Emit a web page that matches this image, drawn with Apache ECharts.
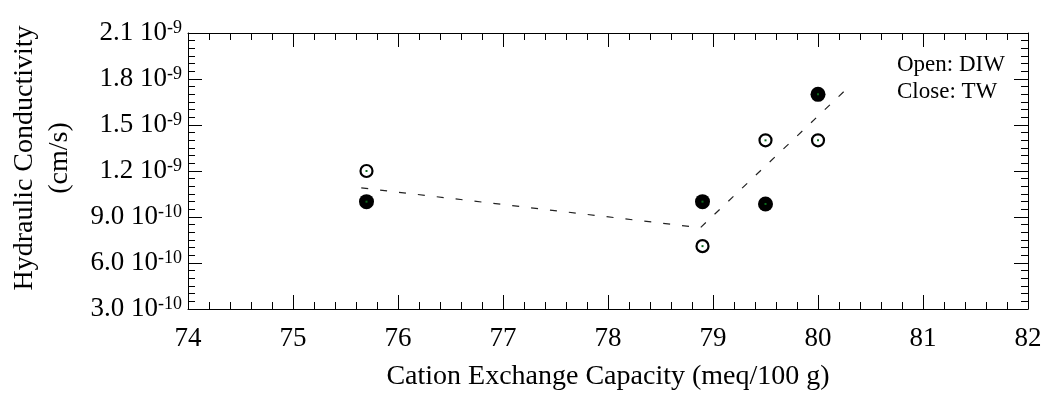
<!DOCTYPE html>
<html>
<head>
<meta charset="utf-8">
<script src="https://cdn.jsdelivr.net/npm/echarts@6/dist/echarts.min.js"></script>
<style>
  html, body { margin: 0; padding: 0; background: #fff; }
  #chart { width: 1045px; height: 394px; }
</style>
</head>
<body>
<div id="chart"></div>
<script>
// cation exchange capacity (meq/100 g)
var cecDIW = [75.7, 78.9, 79.5, 80.0];
var cecTW = [75.7, 78.9, 79.5, 80.0];
// hydraulic conductivity, in units of 1e-9 cm/s
var kDIW = [1.2, 0.71, 1.4, 1.4];
var kTW = [1.0, 1.0, 0.985, 1.7];
// dashed trend line (two segments)
var trendX = [75.65, 78.88, 80.28];
var trendY = [1.09, 0.83, 1.74];

var serif = 'Liberation Serif';

function pairs(xs, ys) {
  var out = [];
  for (var i = 0; i < xs.length; i++) out.push([xs[i], ys[i]]);
  return out;
}

function yLabel(v) {
  if (v >= 0.999) return '{b|' + v.toFixed(1) + ' 10}{s|-9}';
  return '{b|' + (v * 10).toFixed(1) + ' 10}{s|-10}';
}

var tickStyle = { color: '#000', width: 1 };

var chart = echarts.init(document.getElementById('chart'));
chart.setOption({
  animation: false,
  grid: { left: 188, right: 17, top: 33, bottom: 85, outerBoundsMode: 'none', containLabel: false },
  xAxis: [
    {
      type: 'value', min: 74, max: 82, interval: 1,
      name: 'Cation Exchange Capacity (meq/100 g)',
      nameLocation: 'middle', nameGap: 54,
      nameTextStyle: { fontFamily: serif, fontSize: 28, color: '#000' },
      axisLine: { lineStyle: { color: '#000', width: 1 } },
      axisTick: { inside: true, length: 14, lineStyle: tickStyle },
      minorTick: { show: true, splitNumber: 5, length: 7, lineStyle: tickStyle },
      axisLabel: { fontFamily: serif, fontSize: 27, color: '#000', margin: 16 },
      splitLine: { show: false }
    },
    {
      type: 'value', min: 74, max: 82, interval: 1, position: 'top',
      axisLine: { lineStyle: { color: '#000', width: 1 } },
      axisTick: { inside: true, length: 14, lineStyle: tickStyle },
      minorTick: { show: true, splitNumber: 5, length: 7, lineStyle: tickStyle },
      axisLabel: { show: false },
      splitLine: { show: false }
    }
  ],
  yAxis: [
    {
      type: 'value', min: 0.3, max: 2.1, interval: 0.3,
      name: 'Hydraulic Conductivity\n(cm/s)',
      nameLocation: 'middle', nameGap: 111,
      nameTextStyle: { fontFamily: serif, fontSize: 28, color: '#000', lineHeight: 35, padding: [0, 0, 0, 26] },
      axisLine: { lineStyle: { color: '#000', width: 1 } },
      axisTick: { inside: true, length: 14, lineStyle: tickStyle },
      minorTick: { show: true, splitNumber: 6, length: 7, lineStyle: tickStyle },
      axisLabel: {
        margin: 6,
        formatter: yLabel,
        rich: {
          b: { fontFamily: serif, fontSize: 27, color: '#000', lineHeight: 28 },
          s: { fontFamily: serif, fontSize: 18, color: '#000', verticalAlign: 'top' }
        }
      },
      splitLine: { show: false }
    },
    {
      type: 'value', min: 0.3, max: 2.1, interval: 0.3, position: 'right',
      axisLine: { lineStyle: { color: '#000', width: 1 } },
      axisTick: { inside: true, length: 14, lineStyle: tickStyle },
      minorTick: { show: true, splitNumber: 6, length: 7, lineStyle: tickStyle },
      axisLabel: { show: false },
      splitLine: { show: false }
    }
  ],
  graphic: [
    {
      type: 'text', left: 897, top: 51,
      style: { text: 'Open: DIW\nClose: TW', font: '23px ' + serif, fill: '#000', lineHeight: 27 }
    }
  ],
  series: [
    {
      name: 'trend', type: 'line', data: pairs(trendX, trendY),
      showSymbol: false, symbol: 'none',
      lineStyle: { color: '#222', width: 1.2, type: [7, 12] },
      z: 1
    },
    {
      name: 'DIW', type: 'scatter', data: pairs(cecDIW, kDIW),
      symbol: 'circle', symbolSize: 12,
      itemStyle: { color: '#fff', borderColor: '#000', borderWidth: 2.2, opacity: 1 },
      z: 3
    },
    {
      name: 'TW', type: 'scatter', data: pairs(cecTW, kTW),
      symbol: 'circle', symbolSize: 15,
      itemStyle: { color: '#000', opacity: 1 },
      z: 3
    },
    {
      name: 'centres', type: 'scatter', data: pairs(cecDIW, kDIW).concat(pairs(cecTW, kTW)),
      symbol: 'rect', symbolSize: 2,
      itemStyle: { color: '#0a6a1a', opacity: 1 },
      silent: true, z: 4
    }
  ]
});
</script>
</body>
</html>
